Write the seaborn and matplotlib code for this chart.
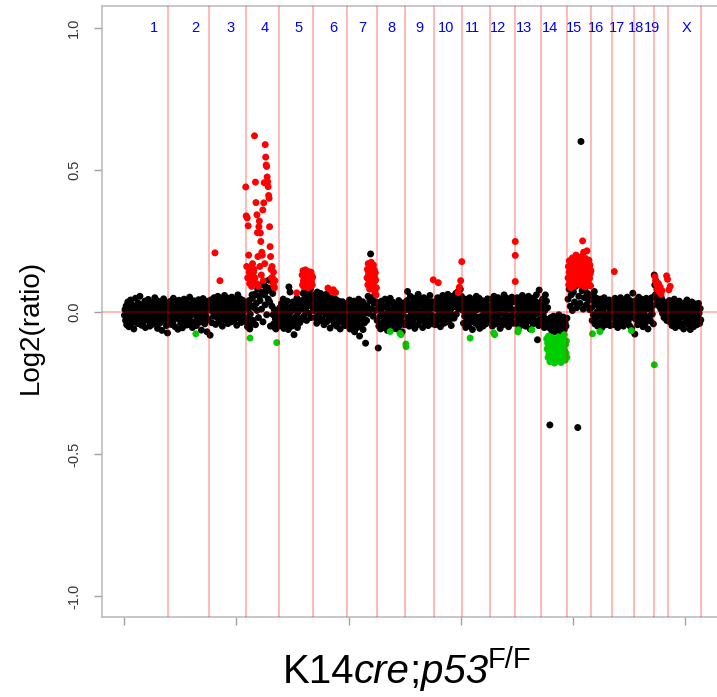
import numpy as np
import pandas as pd
import matplotlib
matplotlib.use("Agg")
import matplotlib.pyplot as plt
import seaborn as sns

# ---------------- genome layout (Mb) ----------------
chrom_names = ["1", "2", "3", "4", "5", "6", "7", "8", "9", "10",
               "11", "12", "13", "14", "15", "16", "17", "18", "19", "X"]
chrom_len_mb = [198, 181, 162, 149, 151, 151, 133, 128, 126, 128,
                121, 111, 119, 116, 106, 94, 96, 89, 62, 149]
label_mb = [133, 316, 476, 627, 778, 930, 1059, 1192, 1317, 1432,
            1552, 1664, 1779, 1895, 2002, 2100, 2193, 2278, 2349, 2504]
genome_ticks_mb = [0, 500, 1000, 1500, 2000, 2500]

# ---------------- probe log2 ratios (x1000), normal-copy probes ----------------
chr1 = [-12, 8, -30, 21, -45, 3, 35, -18, -52, 14, -6, 42, -25, 27, -38, 0, 18, -60, 9, -15,
        48, -33, 22, -8, -41, 31, -20, 5, 55, -28, 12, -47, -3, 25, -36, 16, -10, 38, -55, 7,
        -22, 29, -14, 44, -31, 2, -50, 19, -7, 33, -26, 11, -43, 24, -2, 50, -35, 6, -18, 40,
        -58, 15, -9, 28, -40, 4, 36, -24, -65, 13, -16, 46, -30, 20, -4, 32, -48, 10, -74, -21]
chr2 = [15, -28, 37, -9, -44, 22, 3, -35, 48, -17, 10, -52, 26, -4, 33, -23, -61, 7, 41, -13,
        19, -39, 0, 29, -56, 12, -20, 45, -31, 6, -8, 36, -46, 17, -1, 24, -27, 52, -15, -40,
        9, 30, -55, 14, -6, 39, -34, 21, -11, -48, 4, 27, -22, 43, -37, 11, -3, 34, -64, 18,
        -19, 47, -29, 2, -42, 25, -12, 38, -70, 8, -26, 16]
chr3 = [20, -82, 42, 5, -38, 31, 12, -15, 50, -6, 26, -44, 38, 1, -20, 55, 16, -33, 29, -2,
        45, -12, 22, -50, 35, 8, -27, 58, 14, -18, 40, -4, 25, -41, 48, 10, -22, 33, 3, -35,
        52, 18, -10, 43, -29, 28, 6, -16, 37, -47, 21, 60, -8, 30, -24, 46, 13, -37, 24, -1,
        41, -14, 34, 9, -30]
chr4_a = [12, -35, 30, -52, 5, -20, 40, -60, -8, 22, -44, 60]
chr4_b = [48, -30, 15, 62, -45, 30, 5, 80, -20, 55, 40, 95, 10, 70, -35, 105, 60, 25, 88, -10,
          75, 45, 112, 35, -50, 85, 20, 65]
chr4_c = [-10, -42, 8, -55, -25, -60, 0, -38, -15, -50, -28]
chr5_a = [-20, 15, -48, -5, 30, -35, -12, 45, -58, 8, -28, 22, -42, 2, 38, -18, -62, 88, -8, 70,
          -32, 18, -50, 5, 35, -25, -80, 12, -40, 28, -15, 48, -55, 0, -22, 40, -38, 10, -30, 25]
chr5_b = [40, 10, 65, -15, 30, 75, 5, 55, -30, 20, 70, 45, -5, 60, 25, 80, -20, 35, 50, 15]
chr6 = [35, 5, 60, -20, 42, 18, -40, 70, 10, -12, 50, 28, -30, 65, 0, 38, -25, 55, 15, -45,
        45, 22, -8, 62, -35, 30, 8, 52, -18, 40, -57, 20, -5, 48, -28, 12, 35, -42, 25, -15,
        44, 2, -50, 30, -10, 38, -32, 18, -60, 26, -22, 8, 36, -38, 15, -5, 28, -48, 10, -25]
chr7_a = [-15, 30, -45, 8, -28, 42, -60, 15, -5, -35, 25, -52, 5, 38, -22, -70, 12, -40, 32, -10,
          -55, 20, -30, 45, -18, -85, 2, 28, -48, 10, -25, 36, -62, 18, -8, -38, 24, -110, 6, -30]
chr7_b = [20, 55, -5, 40, 204, 10, 48, -15, 30, 60, 5, 35]
chr8 = [-30, 10, -127, -50, 25, -15, -60, 5, 38, -40, -8, 20, -55, -25, 45, -12, -45, 15, -65, 0,
        30, -35, -20, 48, -52, 8, -28, 35, -10, -58, 18, -42, -2, 28, -32, -60, 12, -18, 40, -48,
        3, -25, 22, -38, -70, 15, -12, 32, -45, 6]
chr9 = [10, -35, 40, 72, -20, 25, -50, 5, 55, -12, -40, 30, 15, -28, 48, -5, -58, 20, 38, -18,
        8, -45, 62, -8, 28, -32, 45, 0, -22, 35, -55, 12, 50, -15, 22, -38, 3, 42, -25, 18,
        -48, 32, -2, 58, -30, 14, -10, 36, -42, 25]
chr10 = [-20, 25, -45, 10, 38, -15, 50, -30, 5, 42, -8, -52, 20, 35, -25, 58, 0, -40, 28, 12,
         -18, 48, -35, 15, 62, -5, 30, -28, 45, 8, -48, 22, 55, -12, 35, -22, 40, 18, 65, -8,
         50, 28, 72, 10, 58, 38, 80, 20, 55, 45]
chr11 = [5, -40, 28, -15, 45, -55, 12, -25, 35, -5, -48, 20, 50, -32, 0, 38, -20, -62, 15, 42,
         -10, -38, 25, -28, 55, 8, -45, 30, -18, 48, -58, 10, -35, 22, 40, -12, -50, 18, 32, -22,
         3, -42, 26, -8, 46, -30, 14, -15]
chr12 = [20, -30, 45, 0, -50, 32, -12, 55, -25, 15, -42, 38, 8, -18, 50, -35, 25, -5, -58, 42,
         12, -28, 35, -45, 22, 60, -10, 30, -38, 5, 48, -22, 18, -52, 40, -15, 28, -32, 10, 52,
         -8, -40, 36, 2]
chr13 = [-15, 35, -40, 10, 50, -25, 20, -55, 42, 0, -30, 28, -10, 58, -45, 15, 38, -20, 5, -50,
         45, -35, 25, -8, 55, -28, 12, -60, 32, -18, 48, 2, -42, 22, -12, 40, -32, 18, 60, -5,
         -98, 30, -48, 77, 8, -25, 35]
chr14_a = [20, -35, 45, -10, 30, -55, 5, 60, -25, 38, -45, 15]
chr14_b = [-30, -55, -398, -20, -65, -40, -15, -70, -48, -25, -60, -35, -10, -52, -72, -28, -45,
           -18, -62, -38, -50, -22]
chr15 = [45, 80, 20, 60, 5, 70, 35, 90, 15, -407, 55, 30, 600, 75, 10, 50, 85, 25, 65, 40, 8, 58]
chr16 = [15, -30, 40, -10, 55, 72, -42, 25, -20, 48, 0, -50, 32, -15, 10, -38, 45, -5, 22, -55,
         35, 5, -28, 50, -12, 28, -45, 18, -22, 38, -8, -35, 42, 12, -48, 25, -2, 30]
chr17 = [-20, 30, -45, 12, 48, -10, -35, 25, 5, -55, 38, -15, 20, -40, 50, 0, -28, 35, -8, -50,
         15, 42, -22, 28, -5, -38, 52, 10, -30, 18, -48, 40, -12, 25, -58, 8, 66, -18]
chr18 = [10, -78, -25, 40, -5, 28, -45, 15, 52, -18, 32, -35, 2, 45, -28, 20, -52, 38, -10, 25,
         -40, 8, 48, -22, 30, -60, 12, 42, -15, 35, -32, 5, 50, -8, 22, -42]
chr19 = [130, 95, 60, 110, 45, 80, 30, 72, 55, 20, 65, 40, 10, 50, 28, -5, 38, 15, -20, 30,
         0, -15, 22, -30, 8]
chrX = [25, -10, 40, -35, 8, -20, 35, -48, 0, 18, -30, 45, -15, -55, 22, -5, 30, -40, 12, -25,
        38, -8, -50, 15, -18, 28, -42, 5, -60, 20, -12, 32, -35, -2, 42, -28, 10, -45, 25, -20,
        -62, 15, -8, 35, -38, 2, -52, 18, -15, 28, -30, 8, -45, 20, -22, 30, -5, -40, 12, -28]

# ---------------- gained probes (x1000) ----------------
gain_chr4 = [440, 338, 160, 331, 120, 303, 200, 140, 100, 150,
             120, 110, 90, 130, 170, 100, 140,
             150, 620, 120, 457, 385, 100, 342, 279, 195, 90,
             300, 320, 160, 278, 248, 130, 210, 200, 359, 110, 384, 455, 170,
             589, 545, 517, 512, 475, 459, 441, 410, 400, 300, 230, 195, 150, 120,
             160, 120, 100, 140, 90, 85, 110]
gain_chr5 = [130, 95, 145, 110, 88, 138, 120, 100, 148, 115, 92, 135, 105, 125, 85, 142, 112,
             98, 132, 118, 90, 140, 108, 128, 95, 122]
gain_chr7 = [120, 150, 95, 170, 135, 110, 160, 80, 145, 125, 100, 175, 140, 115, 155, 90, 130,
             165, 105, 148, 122, 70, 138, 112, 60, 85]
gain_chr15 = [120, 160, 95, 140, 180, 110, 150, 130, 85, 170, 125, 145, 100, 190, 135, 115, 155,
              90, 175, 128, 142, 105, 165, 118, 200, 138, 98, 152, 122, 185, 108, 148, 132, 162,
              112, 178, 140, 95, 158, 126, 195, 115, 145, 172, 250, 102, 136, 210, 150, 120, 168,
              88, 142, 188, 130, 160, 110, 215, 148, 125, 175, 138, 100, 182, 155, 118, 165, 135,
              92, 145]
gain_chr19 = [124, 107, 95, 80, 100, 70, 88, 62, 75]
gain_single_mb = [405, 427, 769, 908, 925, 932, 942, 1377, 1399, 1488, 1493, 1499, 1504,
                  1742, 1742, 1742, 2183, 2416, 2420, 2426, 2432]
gain_single = [208, 110, 67, 84, 72, 78, 68, 113, 103, 68, 87, 110, 177,
               248, 199, 107, 142, 127, 115, 78, 90]

# ---------------- lost probes (x1000) ----------------
loss_chr14 = [-95, -130, -110, -160, -85, -145, -120, -175, -100, -135, -155, -90, -125, -168,
              -115, -140, -105, -180, -128, -150, -95, -138, -162, -112, -172, -122, -88, -148,
              -132, -158, -108, -178, -118, -142, -98, -165, -126, -152, -80, -136, -170, -115,
              -145, -102, -160]
loss_single_mb = [320, 561, 680, 1185, 1229, 1233, 1255, 1256, 1541, 1646, 1650,
                  1754, 1756, 1816, 2086, 2119, 2259, 2361]
loss_single = [-77, -92, -108, -69, -76, -80, -113, -122, -92, -74, -80,
               -70, -63, -63, -77, -69, -66, -186]

# ---------------- assemble probe table ----------------
chrom_start = np.concatenate([[0], np.cumsum(chrom_len_mb)])


def spread(start, end, values, call):
    """Place a run of probes evenly between two genome positions (Mb)."""
    return pd.DataFrame({"pos_mb": np.linspace(start, end, len(values)),
                         "log2": np.asarray(values) / 1000.0,
                         "call": call})


def whole(i, values):
    return spread(chrom_start[i] + 2, chrom_start[i + 1] - 2, values, "normal")


frames = [
    whole(0, chr1), whole(1, chr2), whole(2, chr3),
    spread(542, 570, chr4_a, "normal"), spread(572, 662, chr4_b, "normal"),
    spread(664, 689, chr4_c, "normal"),
    spread(691, 790, chr5_a, "normal"), spread(793, 840, chr5_b, "normal"),
    whole(5, chr6),
    spread(993, 1080, chr7_a, "normal"), spread(1083, 1124, chr7_b, "normal"),
    whole(7, chr8), whole(8, chr9), whole(9, chr10), whole(10, chr11),
    whole(11, chr12), whole(12, chr13),
    spread(1859, 1886, chr14_a, "normal"), spread(1888, 1972, chr14_b, "normal"),
    spread(1977, 2078, chr15, "normal"),
    whole(15, chr16), whole(16, chr17), whole(17, chr18), whole(18, chr19), whole(19, chrX),
    spread(542, 672, gain_chr4, "gain"),
    spread(793, 840, gain_chr5, "gain"),
    spread(1082, 1124, gain_chr7, "gain"),
    spread(1977, 2079, gain_chr15, "gain"),
    spread(2364, 2395, gain_chr19, "gain"),
    pd.DataFrame({"pos_mb": gain_single_mb, "log2": np.asarray(gain_single) / 1000.0,
                  "call": "gain"}),
    spread(1882, 1972, loss_chr14, "loss"),
    pd.DataFrame({"pos_mb": loss_single_mb, "log2": np.asarray(loss_single) / 1000.0,
                  "call": "loss"}),
]
probes = pd.concat(frames, ignore_index=True)

# ---------------- figure ----------------
sns.set_theme(style="white")
plt.rcParams["font.family"] = ["Liberation Sans", "DejaVu Sans"]

W, H = 717, 697
fig = plt.figure(figsize=(W / 100, H / 100), dpi=100)
ax = fig.add_axes([102 / W, 80 / H, 621 / W, 611 / H])

sns.scatterplot(data=probes, x="pos_mb", y="log2", hue="call",
                palette={"normal": "black", "gain": "#ff0000", "loss": "#00cd00"},
                s=25, linewidth=0, legend=False, ax=ax, zorder=2)

guide = (1.0, 0.0, 0.0, 0.28)
ax.axhline(0, color=guide, lw=1.4, zorder=5)
for x_end in chrom_start[1:]:
    ax.axvline(x_end, color=guide, lw=1.4, zorder=5)

for name, xm in zip(chrom_names, label_mb):
    ax.text(xm, 1.0, name, color="blue", ha="center", va="center", fontsize=10.5)

ax.set_xlim(-98, 2667)
ax.set_ylim(-1.074, 1.077)
ax.set_xticks(genome_ticks_mb)
ax.set_xticklabels([])
ax.set_yticks([-1.0, -0.5, 0.0, 0.5, 1.0])
ax.set_yticklabels(["-1.0", "-0.5", "0.0", "0.5", "1.0"], rotation=90, va="center",
                   color="#333333", fontsize=10.5)
ax.tick_params(axis="both", direction="out", length=6, width=1, color="#a0a0a0",
               left=True, bottom=True)
ax.tick_params(axis="y", pad=9)
ax.set_xlabel("")
ax.set_ylabel("")
for side in ["left", "top", "bottom"]:
    ax.spines[side].set_color("#bdbdbd")
    ax.spines[side].set_linewidth(1.2)
ax.spines["right"].set_visible(False)

fig.text(31 / W, 1 - 327 / H, "Log2(ratio)", rotation=90, ha="center", va="center",
         fontsize=20, color="black")

# Genotype caption: upright "K14", italic "cre;p53", superscript "F/F"
renderer = fig.canvas.get_renderer()
pieces = [("K14", "normal", 29, 0), ("cre", "italic", 29, 0), (";", "normal", 29, 0),
          ("p53", "italic", 29, 0), ("F/F", "normal", 21, 15)]
widths = []
for txt, style, size, _ in pieces:
    t = fig.text(0, 0, txt, fontstyle=style, fontsize=size)
    widths.append(t.get_window_extent(renderer).width)
    t.remove()
x_px = 407 - sum(widths) / 2
base_px = 683
for (txt, style, size, rise), w in zip(pieces, widths):
    fig.text(x_px / W, 1 - (base_px - rise) / H, txt, fontstyle=style, fontsize=size,
             ha="left", va="baseline", color="black")
    x_px += w

fig.savefig("out.png", dpi=100)
